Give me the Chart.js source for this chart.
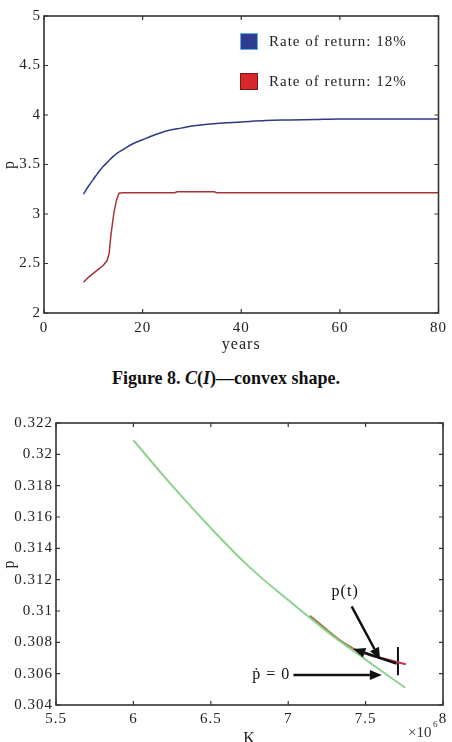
<!DOCTYPE html>
<html>
<head>
<meta charset="utf-8">
<script src="https://cdn.jsdelivr.net/npm/chart.js@4.4.1/dist/chart.umd.min.js"></script>
<style>
  html, body { margin: 0; padding: 0; background: #fff; overflow: hidden; }
  body { width: 452px; height: 742px; position: relative; }
  #top { position: absolute; left: 0; top: 0; width: 452px; height: 360px; }
  #bottom { position: absolute; left: 0; top: 405px; width: 452px; height: 345px; }
  #caption { position: absolute; left: 0; top: 368px; width: 452px; text-align: center;
             font: bold 18px "Liberation Serif", "Times New Roman", serif; line-height: 20px; color: #111; }
</style>
</head>
<body>
<div id="top"><canvas id="chartTop"></canvas></div>
<div id="caption">Figure 8. <i>C</i>(<i>I</i>)—convex shape.</div>
<div id="bottom"><canvas id="chartBottom"></canvas></div>
<script>
// --- top chart data (years -> p) ---
const yearsHigh = [8, 9, 10, 11, 12, 13, 14, 15, 16, 18, 20, 22, 25, 28, 30, 35, 40, 45, 50, 55, 60, 70, 80];
const pHigh     = [3.20, 3.28, 3.35, 3.42, 3.48, 3.53, 3.58, 3.62, 3.65, 3.71, 3.75, 3.79, 3.84, 3.87, 3.89, 3.915, 3.93, 3.945, 3.95, 3.955, 3.96, 3.96, 3.96];
const yearsLow  = [8, 9, 10, 11, 12, 12.8, 13.2, 13.6, 14.2, 14.7, 15.2, 16, 26.5, 27, 34.5, 35, 80];
const pLow      = [2.31, 2.36, 2.40, 2.44, 2.48, 2.53, 2.60, 2.80, 3.02, 3.14, 3.21, 3.215, 3.215, 3.225, 3.225, 3.215, 3.215];
const topLabels = ['Rate of return: 18%', 'Rate of return: 12%'];

// --- bottom chart data (K in units of 10^6 -> p) ---
const kNull = [6.0, 6.25, 6.5, 6.75, 7.0, 7.25, 7.5, 7.756];
const pNull = [0.3209, 0.3180, 0.3153, 0.3128, 0.3107, 0.3087, 0.3069, 0.3051];
const kPathA = [7.14, 7.25, 7.34, 7.42];
const pPathA = [0.3097, 0.3088, 0.3081, 0.3076];
const kPathB = [7.42, 7.52, 7.64, 7.76];
const pPathB = [0.3076, 0.3072, 0.3069, 0.3066];
const kBar = [7.709, 7.709];
const pBar = [0.3059, 0.3077];
// arrows: [kFrom, pFrom, kTo, pTo]
const arrows = [
  [7.41, 0.3103, 7.594, 0.3069],
  [7.70, 0.30665, 7.42, 0.30758],
  [7.034, 0.30592, 7.605, 0.30592]
];
// text notes: [text, k, p]
const notes = [
  ['p(t)', 7.368, 0.3112],
  ['\u1E57 = 0', 6.89, 0.3059]
];

const serif = '"Liberation Serif", "DejaVu Serif", "Times New Roman", serif';
const pts = (xs, ys) => xs.map((x, i) => ({ x: x, y: ys[i] }));
const trim = d => v => String(+v.toFixed(d));

// MATLAB-like box with inward ticks on all four sides
const matlabBox = {
  id: 'matlabBox',
  beforeDraw(chart) { chart.ctx.letterSpacing = '1px'; },
  afterDatasetsDraw(chart) {
    const { ctx, chartArea: a, scales: { x, y } } = chart;
    ctx.save();
    ctx.strokeStyle = '#333';
    ctx.lineWidth = 1.6;
    ctx.strokeRect(a.left, a.top, a.width, a.height);
    ctx.lineWidth = 1.2;
    ctx.beginPath();
    x.ticks.forEach(t => {
      const px = x.getPixelForValue(t.value);
      ctx.moveTo(px, a.bottom); ctx.lineTo(px, a.bottom - 4);
      ctx.moveTo(px, a.top); ctx.lineTo(px, a.top + 4);
    });
    y.ticks.forEach(t => {
      const py = y.getPixelForValue(t.value);
      ctx.moveTo(a.left, py); ctx.lineTo(a.left + 4, py);
      ctx.moveTo(a.right, py); ctx.lineTo(a.right - 4, py);
    });
    ctx.stroke();
    ctx.restore();
  }
};

// legend drawn inside the plot like the original
const insideLegend = {
  id: 'insideLegend',
  afterDraw(chart) {
    const { ctx, chartArea: a } = chart;
    const fills = ['#2c3d92', '#d8282c'];
    const edges = ['#5fb0e8', '#7a1616'];
    ctx.save();
    ctx.letterSpacing = '1px';
    ctx.font = '15px ' + serif;
    ctx.textBaseline = 'middle';
    chart.data.datasets.forEach((ds, i) => {
      const sx = a.left + 196, sy = a.top + 17 + i * 40;
      ctx.fillStyle = fills[i];
      ctx.fillRect(sx, sy, 18, 17);
      ctx.strokeStyle = edges[i];
      ctx.lineWidth = 1;
      ctx.strokeRect(sx + 0.5, sy + 0.5, 17, 16);
      ctx.fillStyle = '#222';
      ctx.fillText(ds.label, a.left + 225, sy + 9);
    });
    ctx.restore();
  }
};

// arrows, notes and exponent for the phase plot
const phaseNotes = {
  id: 'phaseNotes',
  afterDatasetsDraw(chart) {
    const { ctx, chartArea: a, scales: { x, y } } = chart;
    ctx.save();
    ctx.strokeStyle = '#111';
    ctx.fillStyle = '#111';
    ctx.lineWidth = 2.5;
    arrows.forEach(([k0, p0, k1, p1]) => {
      const x0 = x.getPixelForValue(k0), y0 = y.getPixelForValue(p0);
      const x1 = x.getPixelForValue(k1), y1 = y.getPixelForValue(p1);
      const ang = Math.atan2(y1 - y0, x1 - x0);
      const hl = 12, hw = 5;
      const bx = x1 - hl * Math.cos(ang), by = y1 - hl * Math.sin(ang);
      ctx.beginPath();
      ctx.moveTo(x0, y0); ctx.lineTo(bx, by);
      ctx.stroke();
      ctx.beginPath();
      ctx.moveTo(x1, y1);
      ctx.lineTo(bx + hw * Math.sin(ang), by - hw * Math.cos(ang));
      ctx.lineTo(bx - hw * Math.sin(ang), by + hw * Math.cos(ang));
      ctx.closePath();
      ctx.fill();
    });
    ctx.letterSpacing = '1px';
    ctx.font = '16px ' + serif;
    ctx.textAlign = 'center';
    ctx.textBaseline = 'middle';
    notes.forEach(([txt, k, p]) => ctx.fillText(txt, x.getPixelForValue(k), y.getPixelForValue(p)));
    // x10^6 under the right end of the axis
    ctx.letterSpacing = '0px';
    ctx.textAlign = 'left';
    ctx.textBaseline = 'alphabetic';
    ctx.fillStyle = '#333';
    ctx.font = '15px ' + serif;
    ctx.fillText('\u00D710', a.right - 35, a.bottom + 32);
    ctx.font = '9px ' + serif;
    ctx.fillText('6', a.right - 10, a.bottom + 22);
    ctx.restore();
  }
};

function axisX(min, max, step, size, pad, height, title, titlePad) {
  return {
    type: 'linear', min: min, max: max,
    grid: { display: false, drawTicks: false },
    border: { display: false },
    ticks: { stepSize: step, color: '#222', padding: pad, font: { family: serif, size: size }, callback: trim(2), maxRotation: 0 },
    title: { display: true, text: title, color: '#222', font: { family: serif, size: 16 }, padding: { top: 0, bottom: titlePad } },
    afterFit(scale) { scale.height = height; }
  };
}
function axisY(min, max, step, size, width, digits) {
  return {
    type: 'linear', min: min, max: max,
    grid: { display: false, drawTicks: false },
    border: { display: false },
    ticks: { stepSize: step, color: '#222', padding: 3, font: { family: serif, size: size }, callback: trim(digits) },
    title: { display: true, text: 'p', color: '#222', font: { family: serif, size: 16 }, padding: 0 },
    afterFit(scale) { scale.width = width; }
  };
}

new Chart(document.getElementById('chartTop'), {
  type: 'line',
  data: {
    datasets: [
      { label: topLabels[0], data: pts(yearsHigh, pHigh), borderColor: '#2e3a86', borderWidth: 1.5,
        pointRadius: 0, cubicInterpolationMode: 'monotone' },
      { label: topLabels[1], data: pts(yearsLow, pLow), borderColor: '#a8323a', borderWidth: 1.5,
        pointRadius: 0, tension: 0 }
    ]
  },
  options: {
    responsive: true, maintainAspectRatio: false, animation: false,
    layout: { padding: { left: 0, right: 9, top: 16, bottom: 0 } },
    plugins: { legend: { display: false }, tooltip: { enabled: false } },
    scales: {
      x: axisX(0, 80, 20, 15, 6, 47, 'years', 6),
      y: axisY(2, 5, 0.5, 15, 44, 2)
    }
  },
  plugins: [matlabBox, insideLegend]
});

new Chart(document.getElementById('chartBottom'), {
  type: 'line',
  data: {
    datasets: [
      { label: 'p dot = 0', data: pts(kNull, pNull), borderColor: 'rgba(130,205,130,0.9)', borderWidth: 2,
        pointRadius: 0, tension: 0.4 },
      { label: 'p(t) a', data: pts(kPathA, pPathA), borderColor: 'rgba(140,100,50,0.85)', borderWidth: 2,
        pointRadius: 0, tension: 0.3 },
      { label: 'p(t) b', data: pts(kPathB, pPathB), borderColor: '#c8324e', borderWidth: 2,
        pointRadius: 0, tension: 0.3 },
      { label: 'bar', data: pts(kBar, pBar), borderColor: '#111', borderWidth: 2, pointRadius: 0 }
    ]
  },
  options: {
    responsive: true, maintainAspectRatio: false, animation: false,
    layout: { padding: { left: 0, right: 9, top: 18, bottom: 0 } },
    plugins: { legend: { display: false }, tooltip: { enabled: false } },
    scales: {
      x: axisX(5.5, 8, 0.5, 15, 5, 45, 'K', 2),
      y: axisY(0.304, 0.322, 0.002, 15, 56, 3)
    }
  },
  plugins: [matlabBox, phaseNotes]
});
</script>
</body>
</html>
